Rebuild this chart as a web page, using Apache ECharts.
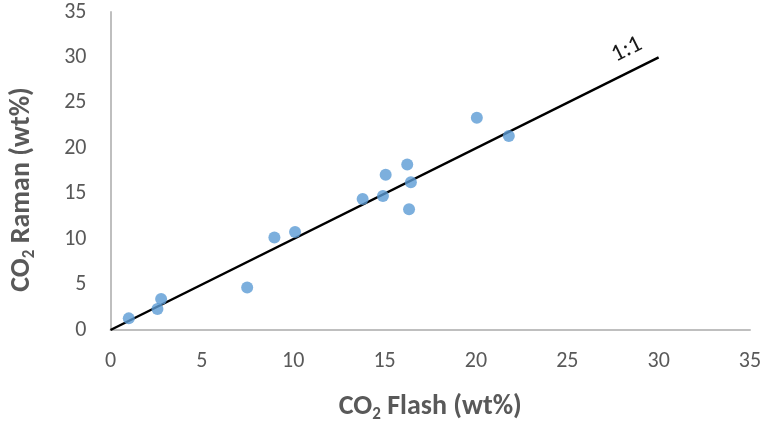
<!DOCTYPE html>
<html><head><meta charset="utf-8">
<script src="https://cdn.jsdelivr.net/npm/echarts@6/dist/echarts.min.js"></script>
<style>html,body{margin:0;padding:0;background:#fff}#c{width:779px;height:428px}</style>
</head><body><div id="c"></div>
<script>
var flashX = [1.0, 2.57, 2.77, 7.48, 8.97, 10.1, 13.8, 14.91, 15.06, 16.24, 16.44, 16.34, 20.05, 21.8];
var ramanY = [1.28, 2.3, 3.4, 4.68, 10.17, 10.79, 14.41, 14.74, 17.08, 18.21, 16.27, 13.28, 23.37, 21.36];
var lineX = [0, 30];
var lineY = [0, 30];
var lineLabel = '1:1';
var xTitle = 'CO{s|2} Flash (wt%)';
var yTitle = 'CO{s|2} Raman (wt%)';

var font = 'Carlito, "Open Sans", sans-serif';
var pts = flashX.map(function(x, i){ return [x, ramanY[i]]; });
var linePts = lineX.map(function(x, i){ return [x, lineY[i]]; });
linePts[1] = {value: linePts[1], label: {show: true, formatter: lineLabel, position: 'inside', rotate: 26.5, offset: [-25, -21], fontSize: 24, color: '#1a1a1a', fontFamily: font}};

var sub = {fontSize: 17, fontWeight: 'bold', color: '#595959', padding: [16, 0, 0, 0], fontFamily: font};
var chart = echarts.init(document.getElementById('c'));
chart.setOption({
  animation: false,
  grid: {left: 110, right: 29, top: 12, bottom: 97},
  xAxis: {
    type: 'value', min: 0, max: 35, interval: 5,
    axisLine: {lineStyle: {color: '#bfbfbf', width: 2}},
    axisTick: {show: false}, splitLine: {show: false},
    axisLabel: {color: '#595959', fontSize: 22, margin: 20, fontFamily: font},
    name: xTitle, nameLocation: 'middle', nameGap: 60,
    nameTextStyle: {color: '#595959', fontSize: 28, fontWeight: 'bold', fontFamily: font, rich: {s: sub}}
  },
  yAxis: {
    type: 'value', min: 0, max: 35, interval: 5,
    axisLine: {show: true, lineStyle: {color: '#bfbfbf', width: 2}},
    axisTick: {show: false}, splitLine: {show: false},
    axisLabel: {color: '#595959', fontSize: 22, margin: 24, fontFamily: font},
    name: yTitle, nameLocation: 'middle', nameGap: 72,
    nameTextStyle: {color: '#595959', fontSize: 28, fontWeight: 'bold', fontFamily: font, padding: [0, 37, 0, 0], rich: {s: sub}}
  },
  series: [
    {type: 'line', data: linePts, symbol: 'circle', symbolSize: 0, showSymbol: true, lineStyle: {color: '#000', width: 2.5}, z: 2, silent: true},
    {type: 'scatter', data: pts, symbolSize: 12, itemStyle: {color: '#5b9bd5'}, z: 3}
  ]
});
</script></body></html>
